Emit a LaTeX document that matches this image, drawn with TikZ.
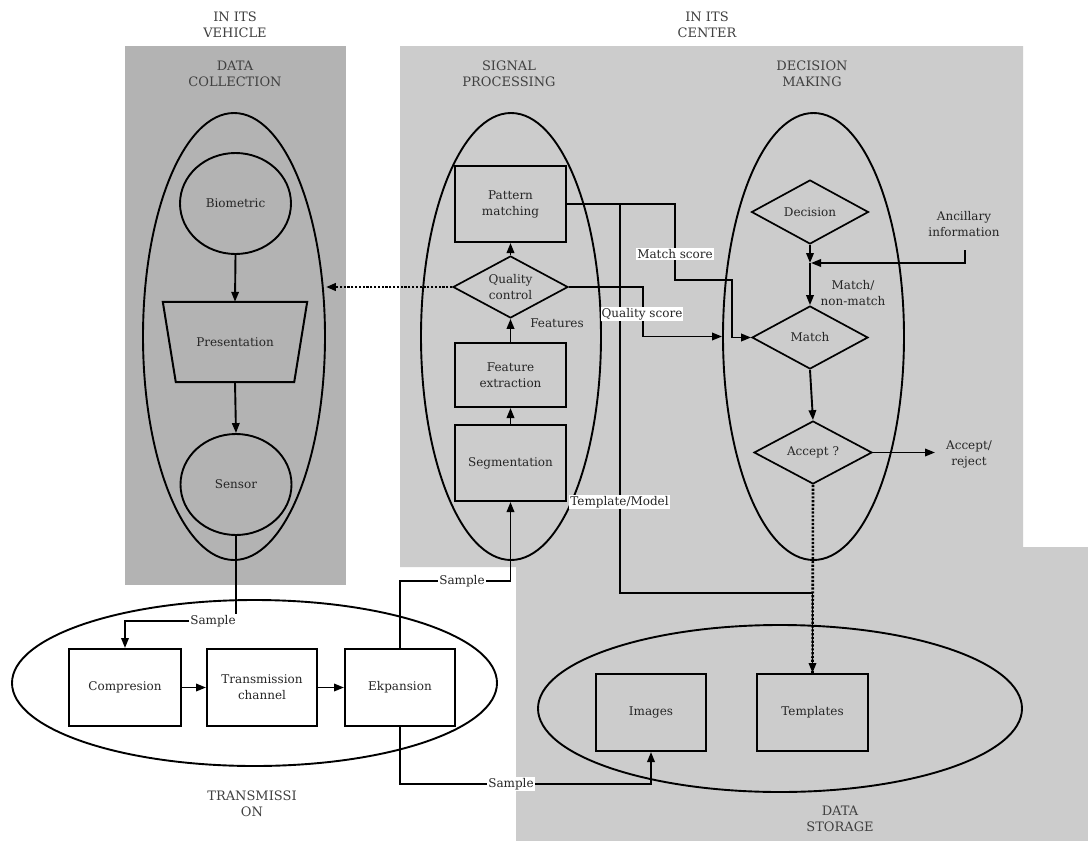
\documentclass[tikz,border=0pt]{standalone}
\usepackage{fontspec}
\setmainfont{DejaVu Serif}
\usetikzlibrary{shapes.geometric,arrows.meta}
\definecolor{darkbg}{HTML}{B3B3B3}
\definecolor{lightbg}{HTML}{CCCCCC}
\begin{document}
\begin{tikzpicture}[x=1pt,y=-1pt,
  every node/.style={font=\fontsize{12}{16}\selectfont, text=black!85},
  box/.style={draw, line width=2pt, minimum width=111pt, minimum height=76pt, inner sep=0pt, align=center},
  dia/.style={diamond, draw, line width=1.7pt, inner sep=0pt},
  oval/.style={ellipse, draw, line width=1.9pt, inner sep=0pt},
  conn/.style={line width=1.9pt, -{Triangle[length=10pt,width=7.5pt]}},
  plain/.style={line width=1.9pt},
  dots/.style={line width=2.6pt, dash pattern=on 2.2pt off 1.6pt},
  lbl/.style={fill=white, inner sep=1pt},
  title/.style={align=center, font=\fontsize{13}{16}\selectfont, text=black!75},
  txt/.style={align=center}
]
\useasboundingbox (0,0) rectangle (1088,841);
% backgrounds
\fill[white] (0,0) rectangle (1088,841);
\fill[darkbg] (125,46) rectangle (346,585);
\fill[lightbg] (400,46) -- (1023,46) -- (1023,547) -- (1088,547) -- (1088,841) -- (516,841) -- (516,567) -- (400,567) -- cycle;

% titles
\node[title] (tv) at (235,25) {IN ITS\\VEHICLE};
\node[title] (tc) at (707,25) {IN ITS\\CENTER};
\node[title] (tdc) at (235,74) {DATA\\COLLECTION};
\node[title] (tsp) at (509,74) {SIGNAL\\PROCESSING};
\node[title] (tdm) at (812,74) {DECISION\\MAKING};
\node[title] (ttr) at (252,804) {TRANSMISSI\\ON};
\node[title] (tds) at (840,819) {DATA\\STORAGE};

% group ellipses
\node[oval, minimum width=182pt, minimum height=447pt] (dc) at (234,336.5) {};
\node[oval, minimum width=180pt, minimum height=447pt] (sp) at (511,336.5) {};
\node[oval, minimum width=181pt, minimum height=447pt] (dm) at (813.5,336.5) {};
\node[oval, minimum width=485pt, minimum height=166pt] (tr) at (254.5,683) {};
\node[oval, minimum width=484pt, minimum height=167pt] (ds) at (780,708.5) {};

% data collection
\node[oval, minimum width=111pt, minimum height=101pt] (bio) at (235.5,203.5) {Biometric};
\node[inner sep=0pt, minimum width=144pt, minimum height=80pt] (pres) at (235,342) {Presentation};
\draw[line width=2pt] (pres.north west) -- (pres.north east) -- ([xshift=-13pt]pres.south east) -- ([xshift=13pt]pres.south west) -- cycle;
\node[oval, minimum width=111pt, minimum height=101pt] (sens) at (236,484.5) {Sensor};

% signal processing
\node[box] (pm) at (510.5,204) {Pattern\\matching};
\node[dia, minimum width=115pt, minimum height=62pt] (qc) at (510.5,287) {};
\node[txt] at (qc) {Quality\\control};
\node[box, minimum height=64pt] (fe) at (510.5,375) {Feature\\extraction};
\node[box] (seg) at (510.5,463) {Segmentation};
\node (feat) at (557,323) {Features};

% decision making
\node[dia, minimum width=117pt, minimum height=64pt] (dec) at (810,212) {};
\node at (dec) {Decision};
\node[dia, minimum width=116pt, minimum height=63pt] (match) at (810,337.5) {};
\node at (match) {Match};
\node[dia, minimum width=118pt, minimum height=63pt] (acc) at (813,452.5) {};
\node at (acc) {Accept ?};
\node[txt] (anc) at (964,224) {Ancillary\\information};
\node[txt] (mnm) at (853,293) {Match/\\non-match};
\node[txt] (ar) at (969,454) {Accept/\\reject};

% transmission
\node[box, minimum width=112pt, minimum height=77pt] (comp) at (125,687.5) {Compresion};
\node[box, minimum width=110pt, minimum height=77pt] (trch) at (262,687.5) {Transmission\\channel};
\node[box, minimum width=110pt, minimum height=77pt] (ekp) at (400,687.5) {Ekpansion};

% data storage
\node[box, minimum width=110pt, minimum height=77pt] (img) at (651,712.5) {Images};
\node[box, minimum width=111pt, minimum height=77pt] (tmpl) at (812.5,712.5) {Templates};

% sample labels
\node[lbl] (smp1) at (213,621) {Sample};
\node[lbl] (smp2) at (462,581) {Sample};
\node[lbl] (smp3) at (511,784) {Sample};

% coordinates
\coordinate (j1) at (620,204);
\coordinate (t1) at (620,593);
\coordinate (q1) at (643,287);
\coordinate (p1) at (675,204);
\coordinate (p2) at (675,280);
\coordinate (p3) at (732,280);
\coordinate (j2) at (810,263);
\coordinate (ancb) at (965,250);
\coordinate (arEnd) at (935,452.5);

% connectors
\draw[conn] (bio.south) -- (pres.north);
\draw[conn] (pres.south) -- (sens.north);
\draw[plain] (sens.south) -- (sens.south |- smp1.north);
\draw[conn] (smp1.west) -| (comp.north);
\draw[conn] (comp.east) -- (trch.west);
\draw[conn] (trch.east) -- (ekp.west);
\draw[plain] (ekp.north) |- (smp2.west);
\draw[conn] (smp2.east) -| (seg.south);
\draw[plain] (ekp.south) |- (smp3.west);
\draw[conn] (smp3.east) -| (img.south);
\draw[conn] (seg.north) -- (fe.south);
\draw[conn] (fe.north) -- (qc.south);
\draw[conn] (qc.north) -- (pm.south);
\draw[dots, -{Triangle[length=10pt,width=7.5pt]}] (qc.west) -- (qc.west -| dc.east);
\draw[dots] (acc.south) -- (tmpl.north);
\draw[conn] (pm.east) -- (p1) -- (p2) -- (p3) |- (match.west);
\draw[conn] (j1) -- (t1) -| (tmpl.north);
\draw[conn] (qc.east) -- (q1) |- (dm.west);
\draw[conn] (dec.south) -- (j2);
\draw[conn] (j2) -- (match.north);
\draw[conn, shorten >=1pt] (ancb) |- (j2);
\draw[conn] (match.south) -- (acc.north);
\draw[conn] (acc.east) -- (arEnd);

% labels on lines
\node[lbl] (ms) at (675,254) {Match score};
\node[lbl] (qs) at (642,314) {Quality score};
\node[lbl] (tm) at (619.5,502) {Template/Model};
\end{tikzpicture}
\end{document}
